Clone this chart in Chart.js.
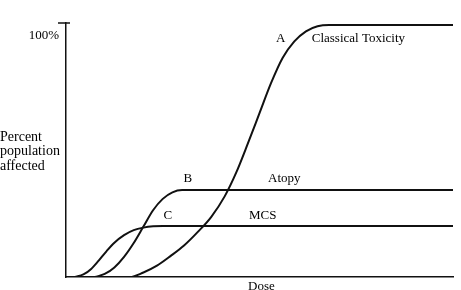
<!DOCTYPE html>
<html>
<head>
<meta charset="utf-8">
<script src="https://cdn.jsdelivr.net/npm/chart.js@4.4.0/dist/chart.umd.min.js"></script>
<style>
  html, body { margin: 0; padding: 0; background: #fff; }
  #wrap { width: 461px; height: 290px; position: relative; }
</style>
</head>
<body>
<div id="wrap"><canvas id="c"></canvas></div>
<script>
const doseA = [0, 16.5, 20, 23.5, 27, 30.5, 34, 37.5, 41, 44, 47, 50, 53, 56, 59, 62, 65, 68, 100];
const pctA  = [0, 0, 1.8, 4.5, 8.3, 12.5, 17.8, 23.8, 32, 41.5, 53, 65, 77, 87, 93.5, 97.5, 99.5, 100, 100];

const doseB = [7.5, 10, 12.5, 15, 17.5, 20, 22.5, 25, 27.5, 30, 100];
const pctB  = [0, 1.2, 3.8, 8, 13.5, 20, 26.5, 31, 33.6, 34.5, 34.5];

const doseC = [2.3, 4.5, 6.5, 8.5, 10.5, 12.5, 15, 17.5, 20, 22.5, 25, 100];
const pctC  = [0, 1, 3.2, 6.6, 10.3, 13.6, 16.6, 18.6, 19.6, 20.1, 20.2, 20.2];

const yTopLabel = '100%';
const yTitle = ['Percent', 'population', 'affected'];
const xTitle = 'Dose';

function pts(xs, ys){ return xs.map((x,i)=>({x:x, y:ys[i]})); }

const SERIF = '"Liberation Serif", "DejaVu Serif", serif';

const labelsPlugin = {
  id: 'labels',
  afterDraw(chart){
    const ctx = chart.ctx, xs = chart.scales.x, ys = chart.scales.y;
    ctx.save();
    ctx.fillStyle = '#000';
    ctx.font = '13px ' + SERIF;
    ctx.textBaseline = 'middle';

    // top tick on the y axis
    const yTop = ys.getPixelForValue(ys.max);
    ctx.strokeStyle = '#111';
    ctx.lineWidth = 1.5;
    ctx.beginPath();
    ctx.moveTo(xs.left - 8, yTop);
    ctx.lineTo(xs.left + 4, yTop);
    ctx.stroke();

    ctx.textAlign = 'right';
    ctx.fillText(yTopLabel, xs.left - 7, ys.getPixelForValue(96));

    ctx.textAlign = 'left';
    ctx.font = '14px ' + SERIF;
    yTitle.forEach((t,i)=> ctx.fillText(t, 0, 137 + i*14.5));

    ctx.font = '13px ' + SERIF;
    // curve letters and names
    const put = (t, x, y, align) => { ctx.textAlign = align; ctx.fillText(t, x, y); };
    put('A', xs.getPixelForValue(55.5), ys.getPixelForValue(94.5), 'center');
    put('Classical Toxicity', xs.getPixelForValue(63.5), ys.getPixelForValue(94.5), 'left');
    put('B', xs.getPixelForValue(31.5), ys.getPixelForValue(39), 'center');
    put('Atopy', xs.getPixelForValue(52.2), ys.getPixelForValue(39), 'left');
    put('C', xs.getPixelForValue(26.3), ys.getPixelForValue(24.5), 'center');
    put('MCS', xs.getPixelForValue(47.3), ys.getPixelForValue(24.5), 'left');
    put(xTitle, xs.getPixelForValue(50.5), 287, 'center');
    ctx.restore();
  }
};

const lineStyle = { borderColor: '#111', borderWidth: 2, pointRadius: 0, fill: false, cubicInterpolationMode: 'monotone' };

new Chart(document.getElementById('c'), {
  type: 'line',
  data: {
    datasets: [
      Object.assign({ label: 'A', data: pts(doseA, pctA) }, lineStyle),
      Object.assign({ label: 'B', data: pts(doseB, pctB) }, lineStyle),
      Object.assign({ label: 'C', data: pts(doseC, pctC) }, lineStyle)
    ]
  },
  options: {
    responsive: true,
    maintainAspectRatio: false,
    animation: false,
    layout: { padding: { left: 66, right: 8, top: 23, bottom: 13 } },
    plugins: { legend: { display: false }, tooltip: { enabled: false } },
    scales: {
      x: {
        type: 'linear', min: 0, max: 100,
        grid: { display: false, drawTicks: false },
        ticks: { display: false },
        border: { display: true, color: '#111', width: 1.5 },
        afterFit: s => { s.height = 0; }
      },
      y: {
        min: 0, max: 100.8,
        grid: { display: false, drawTicks: false },
        ticks: { display: false },
        border: { display: true, color: '#111', width: 1.5 },
        afterFit: s => { s.width = 0; }
      }
    }
  },
  plugins: [labelsPlugin]
});
</script>
</body>
</html>
